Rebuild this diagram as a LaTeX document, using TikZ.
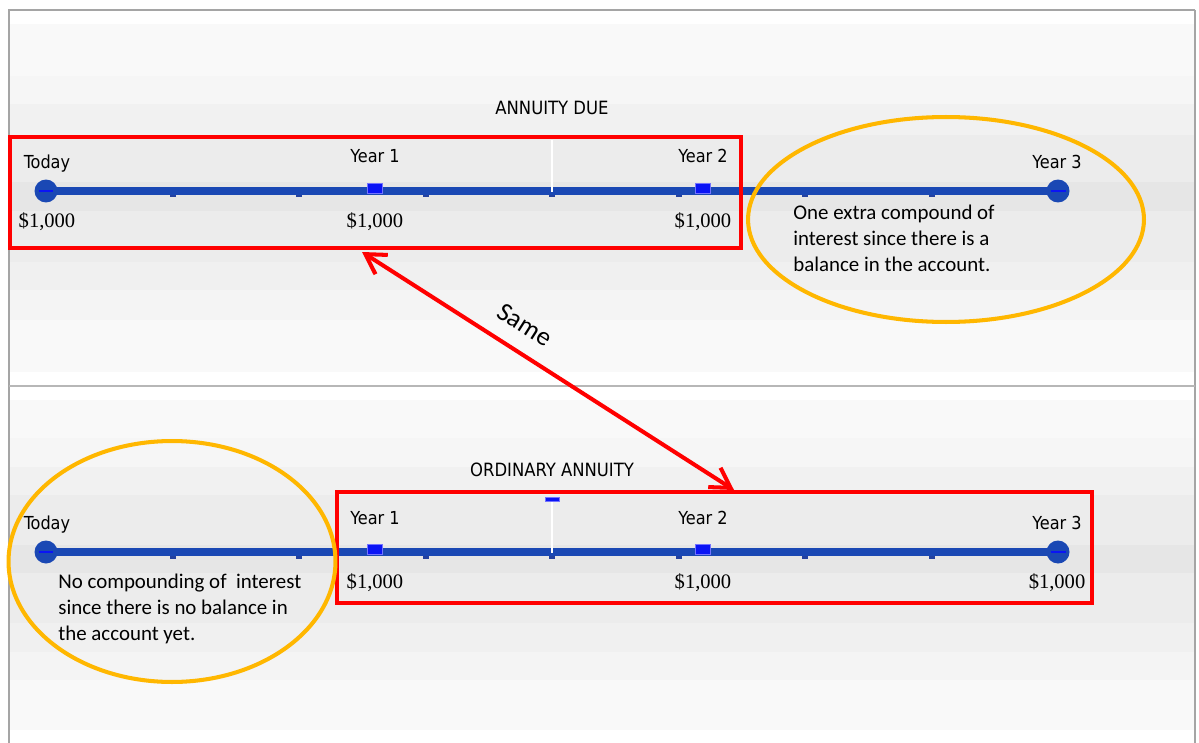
\documentclass[tikz,border=0pt]{standalone}
\usepackage{fontspec}
\setmainfont{Liberation Serif}
\newfontfamily\tahfont{DejaVu Sans Condensed}
\newfontfamily\calfont{Carlito}
\usetikzlibrary{fit,positioning,shapes.geometric,arrows.meta}

\definecolor{tlblue}{RGB}{26,72,180}
\definecolor{tickblue}{RGB}{36,66,160}
\definecolor{markblue}{RGB}{10,20,245}
\definecolor{boxred}{RGB}{255,0,0}
\definecolor{ovalgold}{RGB}{255,183,0}
\definecolor{bandA}{RGB}{249,249,249}
\definecolor{bandB}{RGB}{246,246,246}
\definecolor{bandC}{RGB}{241,241,241}
\definecolor{bandD}{RGB}{236,236,236}
\definecolor{bandE}{RGB}{230,230,230}
\definecolor{bandF}{RGB}{240,240,240}
\definecolor{bandG}{RGB}{244,244,244}
\definecolor{framegray}{RGB}{165,165,165}

\begin{document}
\begin{tikzpicture}[x=0.02cm,y=-0.02cm,
        every fit/.style={rectangle,draw=boxred,line width=2.3pt,inner sep=0pt},
        yearlbl/.style={font=\tahfont\fontsize{10.2}{12}\selectfont,anchor=base,inner sep=0pt},
        titlelbl/.style={font=\tahfont\fontsize{10.4}{12}\selectfont,anchor=base,inner sep=0pt},
        money/.style={font=\fontsize{11.7}{14}\selectfont,anchor=base,inner sep=0pt},
        note/.style={font=\calfont\fontsize{11.9}{14.7}\selectfont,align=left,anchor=north west,inner sep=0pt},
        endpoint/.style={circle,fill=tlblue,minimum size=0.46cm,inner sep=0pt},
        tlmark/.style={rectangle,fill=tickblue,minimum width=0.12cm,minimum height=0.1cm,inner sep=0pt},
        yrmark/.style={rectangle,fill=markblue,draw=blue!55!white,line width=0.4pt,minimum width=0.3cm,minimum height=0.2cm,inner sep=0pt},
        tlline/.style={tlblue,line width=4pt,shorten <=-1pt,shorten >=-1pt},
        oval/.style={ellipse,draw=ovalgold,line width=2.3pt,inner sep=0pt},
        samearrow/.style={boxred,line width=2.3pt,{Straight Barb[length=11pt,width=13pt]}-{Straight Barb[length=11pt,width=13pt]}},
        samelbl/.style={sloped,above=9pt,text=black,font=\calfont\fontsize{15}{17}\selectfont,inner sep=0pt}]

        \useasboundingbox (0,0) rectangle (1199,743);
        \fill[white] (0,0) rectangle (1199,743);

        % background stripes
        \fill[bandA] (9,24) rectangle (1195,76);
        \fill[bandB] (9,76) rectangle (1195,104);
        \fill[bandC] (9,104) rectangle (1195,135);
        \fill[bandD] (9,135) rectangle (1195,182);
        \fill[bandE] (9,182) rectangle (1195,211);
        \fill[bandD] (9,211) rectangle (1195,262);
        \fill[bandF] (9,262) rectangle (1195,290);
        \fill[bandG] (9,290) rectangle (1195,320);
        \fill[bandA] (9,320) rectangle (1195,372);

        \fill[bandA] (9,400) rectangle (1195,438);
        \fill[bandB] (9,438) rectangle (1195,467);
        \fill[bandC] (9,467) rectangle (1195,495);
        \fill[bandD] (9,495) rectangle (1195,545);
        \fill[bandE] (9,545) rectangle (1195,573);
        \fill[bandD] (9,573) rectangle (1195,623);
        \fill[bandF] (9,623) rectangle (1195,652);
        \fill[bandG] (9,652) rectangle (1195,680);
        \fill[bandA] (9,680) rectangle (1195,730);

        \draw[framegray,line width=0.6pt] (9,743) -- (9,10) -- (1195,10);
        \draw[framegray,line width=1.3pt] (1195,10) -- (1195,743);
        \draw[framegray!80,line width=0.9pt] (9,386) -- (1195,386);

        % annuity due
        \node[titlelbl] (duetitle) at (552,115) {ANNUITY DUE};

        \node[endpoint] (dtoday) at (46,191) {};
        \node[endpoint] (dyear3) at (1058,191) {};

        \node[tlmark] (dm1) at (172.5,195) {};
        \node[tlmark] (dm2) at (299,195) {};
        \node[tlmark] (dm3) at (425.5,195) {};
        \node[tlmark] (dm4) at (552,195) {};
        \node[tlmark] (dm5) at (678.5,195) {};
        \node[tlmark] (dm6) at (805,195) {};
        \node[tlmark] (dm7) at (931.5,195) {};

        \draw[tlline] (dtoday) -- (dyear3);
        \draw[white,line width=0.8pt] (552,140) -- (dm4.north);

        \node[yrmark] (dy1) at (375,188) {};
        \node[yrmark] (dy2) at (703,188) {};
        \draw[markblue,line width=1.6pt] ([xshift=-0.15cm]dtoday.center) -- ([xshift=0.15cm]dtoday.center);
        \draw[markblue,line width=1.6pt] ([xshift=-0.15cm]dyear3.center) -- ([xshift=0.15cm]dyear3.center);

        \node[yearlbl] (dtodaylbl) at (47,169) {Today};
        \node[yearlbl] (dy1lbl) at (375,163) {Year 1};
        \node[yearlbl] (dy2lbl) at (703,163) {Year 2};
        \node[yearlbl] (dy3lbl) at (1057,169) {Year 3};

        \node[money] (dpay0) at (47,227) {\$1,000};
        \node[money] (dpay1) at (375,227) {\$1,000};
        \node[money] (dpay2) at (703,227) {\$1,000};

        \coordinate (dueA) at (10,137);
        \coordinate (dueB) at (741,248);
        \node[fit=(dueA) (dueB)] (duebox) {};

        \node[oval,minimum width=7.92cm,minimum height=4.1cm] (extraoval) at (946,219.5) {};
        \node[note] (extranote) at (793,205) {One extra compound of\\interest since there is a\\balance in the account.};

        % ordinary annuity
        \node[titlelbl] (ordtitle) at (552,476) {ORDINARY ANNUITY};

        \node[endpoint] (otoday) at (46,552) {};
        \node[endpoint] (oyear3) at (1058,552) {};

        \node[tlmark] (om1) at (172.5,556) {};
        \node[tlmark] (om2) at (299,556) {};
        \node[tlmark] (om3) at (425.5,556) {};
        \node[tlmark] (om4) at (552,556) {};
        \node[tlmark] (om5) at (678.5,556) {};
        \node[tlmark] (om6) at (805,556) {};
        \node[tlmark] (om7) at (931.5,556) {};

        \draw[tlline] (otoday) -- (oyear3);
        \draw[white,line width=0.8pt] (552,500) -- (om4.north);
        \node[yrmark,minimum width=0.28cm,minimum height=0.08cm] (odash) at (552,499) {};

        \node[yrmark] (oy1) at (375,549) {};
        \node[yrmark] (oy2) at (703,549) {};
        \draw[markblue,line width=1.6pt] ([xshift=-0.15cm]otoday.center) -- ([xshift=0.15cm]otoday.center);
        \draw[markblue,line width=1.6pt] ([xshift=-0.15cm]oyear3.center) -- ([xshift=0.15cm]oyear3.center);

        \node[yearlbl] (otodaylbl) at (47,529) {Today};
        \node[yearlbl] (oy1lbl) at (375,524) {Year 1};
        \node[yearlbl] (oy2lbl) at (703,524) {Year 2};
        \node[yearlbl] (oy3lbl) at (1057,529) {Year 3};

        \node[money] (opay1) at (375,588) {\$1,000};
        \node[money] (opay2) at (703,588) {\$1,000};
        \node[money] (opay3) at (1057,588) {\$1,000};

        \coordinate (ordA) at (337,492);
        \coordinate (ordB) at (1092,603);
        \node[fit=(ordA) (ordB)] (ordbox) {};

        \node[oval,minimum width=6.54cm,minimum height=4.82cm] (nonoval) at (172,561.5) {};
        \node[note] (nonnote) at (58,574) {No compounding of~ interest\\since there is no balance in\\the account yet.};

        % same payments
        \coordinate (sameA) at (362,252);
        \coordinate (sameB) at (734,490);
        \draw[samearrow] (sameA) -- node[samelbl,pos=0.4] (samelabel) {Same} (sameB);

\end{tikzpicture}
\end{document}
